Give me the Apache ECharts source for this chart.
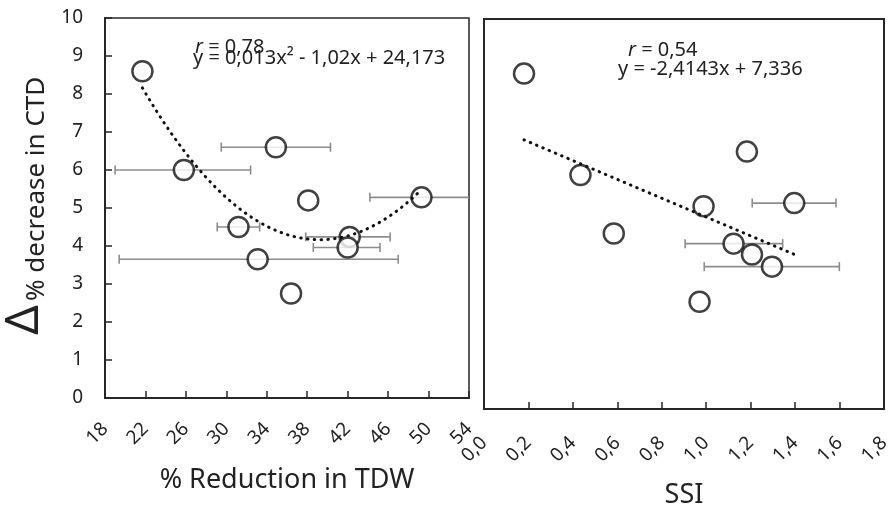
<!DOCTYPE html>
<html>
<head>
<meta charset="utf-8">
<script src="https://cdn.jsdelivr.net/npm/echarts@6/dist/echarts.min.js"></script>
<style>
  html, body { margin: 0; padding: 0; background: #fff; }
  #chart { width: 889px; height: 507px; }
</style>
</head>
<body>
<div id="chart"></div>
<script>
// Δ% decrease in CTD for each genotype (shared by both panels)
const ctdDecrease = [8.6, 6.0, 6.6, 4.5, 5.2, 3.65, 2.75, 4.24, 3.96, 5.28];

// % reduction in TDW with horizontal error limits (null = no bar)
const tdwReduction = [21.7, 25.8, 34.9, 31.2, 38.1, 33.1, 36.4, 42.2, 42.0, 49.3];
const tdwLow  = [null, 19.0, 29.5, 29.1, null, 19.4, null, 37.85, 38.6, 44.2];
const tdwHigh = [null, 32.4, 40.3, 33.3, null, 47.0, null, 46.2, 45.2, 54.4];

// SSI with horizontal error limits
const ssiValues = [0.18, 0.434, 1.183, 0.584, 0.988, 1.296, 0.97, 1.123, 1.206, 1.396];
const ssiLow  = [null, null, null, null, null, 0.991, null, 0.905, null, 1.207];
const ssiHigh = [null, null, null, null, null, 1.599, null, 1.344, null, 1.584];

// Fitted trend lines as printed on the chart
const tdwFitCoef = [0.013, -1.02, 24.173];   // y = a x^2 + b x + c
const tdwFitRange = [21.7, 49.3];
const ssiFitCoef = [-2.4143, 7.336];         // y = m x + k
const ssiFitRange = [0.18, 1.396];

// Axis tick labels
const tdwTicks = ['18', '22', '26', '30', '34', '38', '42', '46', '50', '54'];
const ssiTicks = ['0,0', '0,2', '0,4', '0,6', '0,8', '1,0', '1,2', '1,4', '1,6', '1,8'];
const ctdTicks = ['0', '1', '2', '3', '4', '5', '6', '7', '8', '9', '10'];

const FONT = '"Noto Sans", sans-serif';
const INK = '#222';
const AXIS = '#262626';

function pairs(xs, ys) { return xs.map((x, i) => [x, ys[i]]); }
function bars(lo, hi, ys) {
  const out = [];
  lo.forEach((l, i) => { if (l !== null) out.push([l, hi[i], ys[i]]); });
  return out;
}
function sampleCurve(fn, range, steps) {
  const pts = [];
  for (let i = 0; i <= steps; i++) {
    const x = range[0] + (range[1] - range[0]) * i / steps;
    pts.push([x, fn(x)]);
  }
  return pts;
}
const tdwFit = sampleCurve(x => tdwFitCoef[0] * x * x + tdwFitCoef[1] * x + tdwFitCoef[2], tdwFitRange, 80);
const ssiFit = sampleCurve(x => ssiFitCoef[0] * x + ssiFitCoef[1], ssiFitRange, 40);

function errorBar(params, api) {
  const lo = api.coord([api.value(0), api.value(2)]);
  const hi = api.coord([api.value(1), api.value(2)]);
  const cap = 4.5;
  const style = { stroke: '#8c8c8c', lineWidth: 1.6, fill: null };
  return {
    type: 'group',
    children: [
      { type: 'line', shape: { x1: lo[0], y1: lo[1], x2: hi[0], y2: hi[1] }, style },
      { type: 'line', shape: { x1: lo[0], y1: lo[1] - cap, x2: lo[0], y2: lo[1] + cap }, style },
      { type: 'line', shape: { x1: hi[0], y1: hi[1] - cap, x2: hi[0], y2: hi[1] + cap }, style }
    ]
  };
}

const circleStyle = { color: '#fff', borderColor: '#111', borderWidth: 2.5 };
const dotLine = { color: '#111', width: 3, type: [0.5, 6.3], cap: 'round' };
const tickLabel = { rotate: 45, margin: 28, fontFamily: FONT, fontSize: 19, color: INK };

function xAxisBase(extra) {
  return Object.assign({
    type: 'value',
    nameLocation: 'middle',
    nameMoveOverlap: false,
    nameTextStyle: { fontFamily: FONT, fontSize: 27, color: INK },
    axisLine: { show: true, onZero: false, lineStyle: { color: AXIS, width: 2 } },
    axisTick: { show: true, inside: true, length: 7, lineStyle: { color: AXIS, width: 1.5 } },
    splitLine: { show: false }
  }, extra);
}

const chart = echarts.init(document.getElementById('chart'), null, { renderer: 'canvas' });
chart.setOption({
  animation: false,
  backgroundColor: '#fff',
  grid: [
    { left: 105, top: 18, width: 364, height: 380, outerBoundsMode: 'none', containLabel: false,
      show: true, borderColor: AXIS, borderWidth: 1.5 },
    { left: 484, top: 19, width: 400, height: 390, outerBoundsMode: 'none', containLabel: false,
      show: true, borderColor: AXIS, borderWidth: 2 }
  ],
  xAxis: [
    xAxisBase({
      gridIndex: 0, min: 18, max: 54, interval: 4,
      name: '% Reduction in TDW', nameGap: 69,
      axisLabel: Object.assign({}, tickLabel, { formatter: v => tdwTicks[Math.round((v - 18) / 4)] })
    }),
    xAxisBase({
      gridIndex: 1, min: 0, max: 1.8, interval: 0.2,
      name: 'SSI', nameGap: 73,
      axisLabel: Object.assign({}, tickLabel, { margin: 31, formatter: v => ssiTicks[Math.round(v / 0.2)] })
    })
  ],
  yAxis: [
    {
      type: 'value', gridIndex: 0, min: 0, max: 10, interval: 1,
      axisLine: { show: true, onZero: false, lineStyle: { color: AXIS, width: 2 } },
      axisTick: { show: true, inside: true, length: 7, lineStyle: { color: AXIS, width: 1.5 } },
      axisLabel: { margin: 22, fontFamily: FONT, fontSize: 19, color: INK,
        formatter: v => ctdTicks[Math.round(v)] },
      splitLine: { show: false }
    },
    {
      type: 'value', gridIndex: 1, min: 0, max: 10, interval: 1,
      axisLine: { show: true, onZero: false, lineStyle: { color: AXIS, width: 2 } },
      axisTick: { show: false },
      axisLabel: { show: false },
      splitLine: { show: false }
    }
  ],
  series: [
    { type: 'custom', xAxisIndex: 0, yAxisIndex: 0, clip: true, z: 2,
      renderItem: errorBar, data: bars(tdwLow, tdwHigh, ctdDecrease) },
    { type: 'scatter', xAxisIndex: 0, yAxisIndex: 0, z: 3,
      symbol: 'circle', symbolSize: 20, itemStyle: circleStyle,
      data: pairs(tdwReduction, ctdDecrease) },
    { type: 'line', xAxisIndex: 0, yAxisIndex: 0, z: 4, showSymbol: false, symbol: 'none',
      lineStyle: dotLine, data: tdwFit },

    { type: 'custom', xAxisIndex: 1, yAxisIndex: 1, clip: true, z: 2,
      renderItem: errorBar, data: bars(ssiLow, ssiHigh, ctdDecrease) },
    { type: 'scatter', xAxisIndex: 1, yAxisIndex: 1, z: 3,
      symbol: 'circle', symbolSize: 20, itemStyle: circleStyle,
      data: pairs(ssiValues, ctdDecrease) },
    { type: 'line', xAxisIndex: 1, yAxisIndex: 1, z: 4, showSymbol: false, symbol: 'none',
      lineStyle: dotLine, data: ssiFit }
  ],
  graphic: [
    // y-axis title: large delta followed by the rest of the label
    { type: 'text', x: 25, y: 320, rotation: Math.PI / 2,
      style: { text: 'Δ', font: '46px ' + FONT, fill: INK, align: 'center', verticalAlign: 'middle' } },
    { type: 'text', x: 37, y: 301, rotation: Math.PI / 2,
      style: { text: '% decrease in CTD', font: '26px ' + FONT, fill: INK, align: 'left', verticalAlign: 'middle' } },

    // fit statistics, left panel
    { type: 'text', x: 195, y: 47,
      style: { text: '{i|r} = 0,78', font: '20px ' + FONT, fill: INK, verticalAlign: 'middle',
        rich: { i: { fontStyle: 'italic', fontFamily: FONT, fontSize: 20, fill: INK } } } },
    { type: 'text', x: 193, y: 58,
      style: { text: 'y = 0,013x² - 1,02x + 24,173', font: '20px ' + FONT, fill: INK, verticalAlign: 'middle' } },

    // fit statistics, right panel
    { type: 'text', x: 628, y: 50,
      style: { text: '{i|r} = 0,54', font: '20px ' + FONT, fill: INK, verticalAlign: 'middle',
        rich: { i: { fontStyle: 'italic', fontFamily: FONT, fontSize: 20, fill: INK } } } },
    { type: 'text', x: 618, y: 69,
      style: { text: 'y = -2,4143x + 7,336', font: '20px ' + FONT, fill: INK, verticalAlign: 'middle' } }
  ]
});
</script>
</body>
</html>
